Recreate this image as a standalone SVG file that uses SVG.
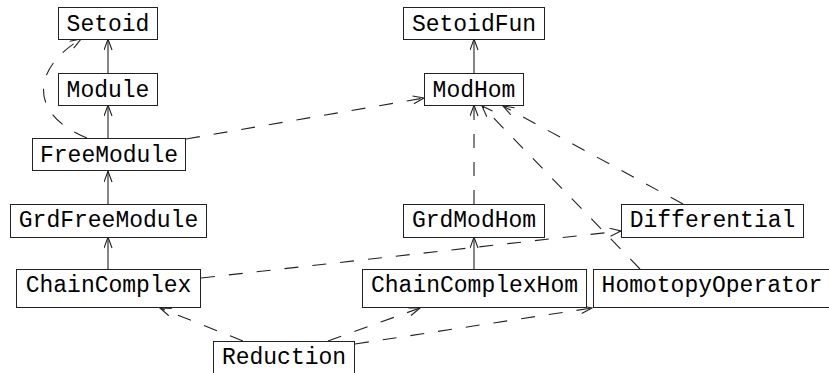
<svg xmlns="http://www.w3.org/2000/svg" width="829" height="373" viewBox="0 0 829 373">
<style>
rect{fill:#fff;stroke:#222;stroke-width:1}
text{font-family:"Liberation Mono","DejaVu Sans Mono",monospace;font-size:23px;fill:#000;text-anchor:middle}
.c{fill:none;stroke:#222;stroke-width:1.1}
.d{stroke-dasharray:14 14}
</style>
<defs>
<marker id="a" markerUnits="userSpaceOnUse" markerWidth="14" markerHeight="10" refX="11.5" refY="4.5" orient="auto" viewBox="0 0 14 10">
<path d="M0.5,0.5 L11.5,4.5 L0.5,8.5" fill="none" stroke="#222" stroke-width="1.1"/>
</marker>
</defs>
<g id="connectors">
<path class="c" d="M108,73 L108,39" marker-end="url(#a)"/>
<path class="c" d="M108,138 L108,105" marker-end="url(#a)"/>
<path class="c" d="M108,204 L108,171" marker-end="url(#a)"/>
<path class="c" d="M108,269 L108,237" marker-end="url(#a)"/>
<path class="c" d="M474,73 L474,39" marker-end="url(#a)"/>
<path class="c" d="M474,269 L474,237" marker-end="url(#a)"/>
<path class="c d" d="M87,138 C30,115 30,70 81,39" marker-end="url(#a)"/>
<path class="c d" d="M186,139 L424,98" marker-end="url(#a)"/>
<path class="c d" d="M474,204 L474,105" marker-end="url(#a)"/>
<path class="c d" d="M640,269 L482,106" marker-end="url(#a)"/>
<path class="c d" d="M683,204 L503,106" marker-end="url(#a)"/>
<path class="c d" d="M201,278 L621,231" marker-end="url(#a)"/>
<path class="c d" d="M243,341 L160,308" marker-end="url(#a)"/>
<path class="c d" d="M328,341 L420,308" marker-end="url(#a)"/>
<path class="c d" d="M355,344 L592,308" marker-end="url(#a)"/>
</g>
<g id="Setoid"><rect x="58.5" y="7.5" width="99" height="32"/><text x="108" y="31">Setoid</text></g>
<g id="Module"><rect x="58.5" y="73.5" width="99" height="32"/><text x="108" y="97">Module</text></g>
<g id="FreeModule"><rect x="32.5" y="138.5" width="153" height="32"/><text x="109" y="162">FreeModule</text></g>
<g id="GrdFreeModule"><rect x="10.5" y="204.5" width="196" height="33"/><text x="108.5" y="227">GrdFreeModule</text></g>
<g id="ChainComplex"><rect x="16.5" y="269.5" width="184" height="38"/><text x="108.5" y="292">ChainComplex</text></g>
<g id="SetoidFun"><rect x="403.5" y="7.5" width="141" height="32"/><text x="474" y="31">SetoidFun</text></g>
<g id="ModHom"><rect x="424.5" y="73.5" width="99" height="32"/><text x="474" y="97">ModHom</text></g>
<g id="GrdModHom"><rect x="403.5" y="204.5" width="141" height="33"/><text x="474" y="227">GrdModHom</text></g>
<g id="Differential"><rect x="621.5" y="204.5" width="182" height="33"/><text x="712.5" y="227">Differential</text></g>
<g id="ChainComplexHom"><rect x="362.5" y="269.5" width="224" height="38"/><text x="474.5" y="292">ChainComplexHom</text></g>
<g id="HomotopyOperator"><rect x="593.5" y="269.5" width="238" height="38"/><text x="712" y="292">HomotopyOperator</text></g>
<g id="Reduction"><rect x="213.5" y="341.5" width="141" height="32"/><text x="284" y="364">Reduction</text></g>
</svg>
